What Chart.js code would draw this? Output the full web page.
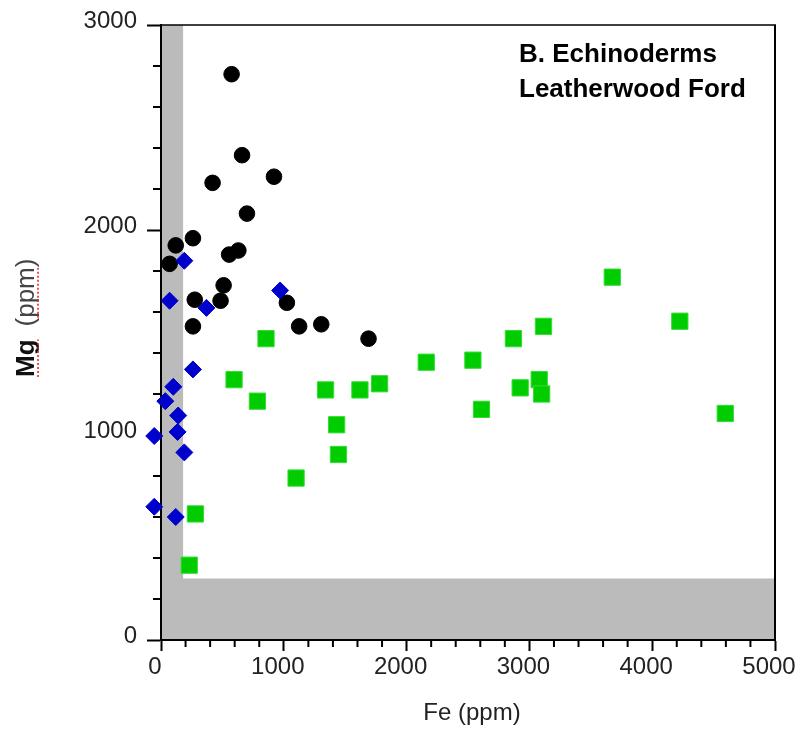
<!DOCTYPE html>
<html>
<head>
<meta charset="utf-8">
<script src="https://cdn.jsdelivr.net/npm/chart.js@4.4.1/dist/chart.umd.min.js"></script>
<style>
  html, body { margin: 0; padding: 0; background: #fff; }
  #wrap { width: 800px; height: 740px; }
</style>
</head>
<body>
<div id="wrap"><canvas id="chart"></canvas></div>
<script>
// 黑色圓點 (Fe, Mg)
const blackFe = [575, 660, 920, 420, 700, 260, 120, 70, 555, 630, 510, 485, 275, 1025, 260, 1125, 1305, 1690];
const blackMg = [2760, 2365, 2260, 2230, 2080, 1960, 1925, 1835, 1880, 1900, 1730, 1655, 1660, 1645, 1530, 1530, 1540, 1470];

// 藍色菱形
const blueFe = [190, 70, 370, 970, 260, 100, 35, 140, 135, -55, 190, -55, 120];
const blueMg = [1850, 1655, 1620, 1705, 1320, 1235, 1165, 1095, 1015, 995, 915, 650, 600];

// 綠色方塊
const greenFe = [855, 595, 785, 1340, 1620, 1780, 1430, 1445, 1100, 280, 230, 2160, 2540, 2870, 3115, 3675, 4225, 2610, 2925, 3080, 3100, 4595];
const greenMg = [1470, 1270, 1165, 1220, 1220, 1250, 1050, 905, 790, 615, 365, 1355, 1365, 1470, 1530, 1770, 1555, 1125, 1230, 1270, 1200, 1105];

// 刻度
const feTicks = [0, 1000, 2000, 3000, 4000, 5000];
const mgTicks = [0, 1000, 2000, 3000];

// 灰色區域的界線
const feLimit = 180;
const mgLimit = 300;

const toPoints = (xs, ys) => xs.map((x, i) => ({ x, y: ys[i] }));

const FONT = '"Liberation Sans", Arial, sans-serif';

const decorPlugin = {
    id: 'decor',
    beforeDraw(chart) {
        const { ctx, chartArea, scales } = chart;
        const x = scales.x, y = scales.y;
        const x0 = x.getPixelForValue(0);
        const x1 = x.getPixelForValue(feLimit);
        const y0 = y.getPixelForValue(0);
        const y1 = y.getPixelForValue(mgLimit);

        ctx.save();
        ctx.fillStyle = '#bbbbbb';
        ctx.fillRect(x0, chartArea.top, x1 - x0, y0 - chartArea.top);
        ctx.fillRect(x0, y1, chartArea.right - x0, y0 - y1);

        // 上、右邊框
        ctx.strokeStyle = '#000';
        ctx.lineWidth = 1.5;
        ctx.beginPath();
        ctx.moveTo(chartArea.left, chartArea.top);
        ctx.lineTo(chartArea.right + 1, chartArea.top);
        ctx.stroke();
        ctx.lineWidth = 2;
        ctx.beginPath();
        ctx.moveTo(chartArea.right, chartArea.top);
        ctx.lineTo(chartArea.right, chartArea.bottom);
        ctx.stroke();
        ctx.restore();
    },
    afterDraw(chart) {
        const { ctx, chartArea, scales } = chart;
        const x = scales.x, y = scales.y;

        // 小刻度
        ctx.save();
        ctx.strokeStyle = '#000';
        ctx.lineWidth = 2;
        x.ticks.forEach(t => {
            if (feTicks.includes(t.value)) return;
            const px = x.getPixelForValue(t.value);
            ctx.beginPath();
            ctx.moveTo(px, chartArea.bottom);
            ctx.lineTo(px, chartArea.bottom + 7);
            ctx.stroke();
        });
        y.ticks.forEach(t => {
            if (mgTicks.includes(t.value)) return;
            const py = y.getPixelForValue(t.value);
            ctx.beginPath();
            ctx.moveTo(chartArea.left, py);
            ctx.lineTo(chartArea.left - 8, py);
            ctx.stroke();
        });

        // 標題
        ctx.fillStyle = '#000';
        ctx.textAlign = 'left';
        ctx.textBaseline = 'alphabetic';
        ctx.font = 'bold 26px ' + FONT;
        ctx.fillText('B. Echinoderms', chartArea.left + 358, 62);
        ctx.fillText('Leatherwood Ford', chartArea.left + 358, 97);

        // X 軸名稱
        ctx.font = '24px ' + FONT;
        ctx.fillStyle = '#222';
        ctx.textAlign = 'center';
        ctx.textBaseline = 'middle';
        ctx.fillText('Fe (ppm)', (chartArea.left + chartArea.right) / 2 + 4, 713);

        // Y 軸名稱 (含紅色拼字底線)
        ctx.translate(34, 377);
        ctx.rotate(-Math.PI / 2);
        ctx.textAlign = 'left';
        ctx.textBaseline = 'alphabetic';
        ctx.font = 'bold 26px ' + FONT;
        ctx.fillStyle = '#111';
        ctx.fillText('Mg', 0, 0);
        const mgW = ctx.measureText('Mg').width;
        ctx.font = '26px ' + FONT;
        ctx.fillStyle = '#444';
        const start = mgW + 13;
        ctx.fillText('(ppm)', start, 0);
        const parenW = ctx.measureText('(').width;
        const pW = ctx.measureText('ppm').width;
        ctx.strokeStyle = '#e02020';
        ctx.lineWidth = 1.5;
        ctx.setLineDash([2, 2]);
        ctx.beginPath();
        ctx.moveTo(0, 4);
        ctx.lineTo(mgW, 4);
        ctx.moveTo(start + parenW, 4);
        ctx.lineTo(start + parenW + pW, 4);
        ctx.stroke();
        ctx.restore();
    }
};

const ctx = document.getElementById('chart').getContext('2d');
new Chart(ctx, {
    type: 'scatter',
    data: {
        datasets: [
            {
                label: 'blue',
                data: toPoints(blueFe, blueMg),
                pointStyle: 'rectRot',
                pointRadius: 8.5,
                backgroundColor: '#0000cc',
                borderColor: '#0000cc',
                borderWidth: 1,
                clip: false
            },
            {
                label: 'black',
                data: toPoints(blackFe, blackMg),
                pointStyle: 'circle',
                pointRadius: 7.8,
                backgroundColor: '#000',
                borderColor: '#000',
                borderWidth: 1,
                clip: false
            },
            {
                label: 'green',
                data: toPoints(greenFe, greenMg),
                pointStyle: 'rect',
                pointRadius: 11.5,
                backgroundColor: '#00cc00',
                borderColor: '#33dd33',
                borderWidth: 1,
                clip: false
            }
        ]
    },
    options: {
        responsive: true,
        maintainAspectRatio: false,
        animation: false,
        layout: { padding: { top: 25, right: 25, left: 0, bottom: 0 } },
        plugins: {
            legend: { display: false },
            tooltip: { enabled: false }
        },
        scales: {
            x: {
                type: 'linear',
                min: 0,
                max: 5000,
                afterFit: s => {
                    s.height = 100;
                    s.paddingLeft = 0;
                    s.paddingRight = 0;
                },
                border: { display: true, color: '#000', width: 2 },
                grid: {
                    drawOnChartArea: false,
                    drawTicks: true,
                    tickLength: 11,
                    tickWidth: 2,
                    tickColor: c => feTicks.includes(c.tick.value) ? '#000' : 'rgba(0,0,0,0)'
                },
                ticks: {
                    stepSize: 200,
                    autoSkip: false,
                    maxRotation: 0,
                    padding: 2,
                    labelOffset: -6,
                    color: '#222',
                    font: { family: FONT, size: 24 },
                    callback: v => feTicks.includes(v) ? String(v) : ''
                }
            },
            y: {
                type: 'linear',
                min: 0,
                max: 3000,
                afterFit: s => {
                    s.width = 161;
                    s.paddingTop = 0;
                    s.paddingBottom = 0;
                },
                border: { display: true, color: '#000', width: 2 },
                grid: {
                    drawOnChartArea: false,
                    drawTicks: true,
                    tickLength: 14,
                    tickWidth: 2,
                    tickColor: c => mgTicks.includes(c.tick.value) ? '#000' : 'rgba(0,0,0,0)'
                },
                ticks: {
                    stepSize: 200,
                    autoSkip: false,
                    padding: 10,
                    labelOffset: -4,
                    color: '#222',
                    font: { family: FONT, size: 24 },
                    callback: v => mgTicks.includes(v) ? String(v) : ''
                }
            }
        }
    },
    plugins: [decorPlugin]
});
</script>
</body>
</html>
